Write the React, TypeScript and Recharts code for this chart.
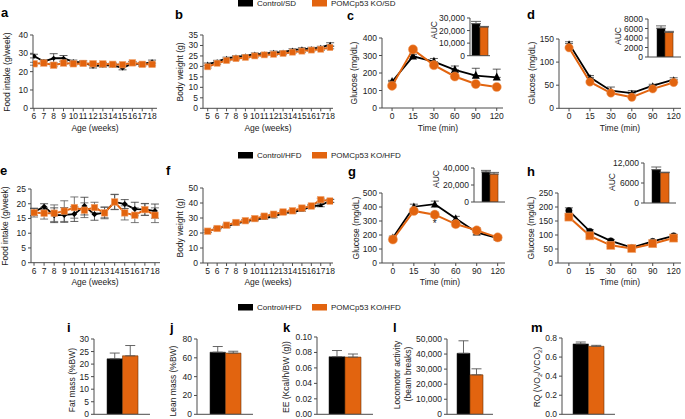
import React from 'react';
import { LineChart, Line, XAxis, YAxis, ErrorBar, BarChart, Bar, ReferenceDot } from 'recharts';

const ORANGE = '#E2640F';
const BLACK = '#000000';
const AXIS = '#4a4a4a';
const FONT = '"Liberation Sans", Arial, Helvetica, sans-serif';
const FS = 8.5;

// ---------------- data ----------------
const agesFood = [6, 7, 8, 9, 10, 11, 12, 13, 14, 15, 16, 17, 18];
const agesBW = [5, 6, 7, 8, 9, 10, 11, 12, 13, 14, 15, 16, 17, 18];
const timeLabels = ['0', '15', '30', '60', '90', '120'];
const timeIdx = [0, 1, 2, 3, 4, 5];

// a: food intake, SD
const foodSDCtrl = [28.5, 25.5, 27.3, 27.3, 25.3, 25, 23, 23.5, 23.5, 22, 24.5, 24, 25.3];
const foodSDCtrlErr = [1, 1, 2.5, 1.5, 1, 1, 1, 1, 1, 1, 1, 1, 1];
const foodSDKO = [24.3, 24.7, 23.5, 24.7, 24.3, 24.5, 24.3, 24.2, 24, 23.8, 24.8, 24, 24];
const foodSDKOErr = [0.8, 0.8, 0.8, 0.8, 0.8, 0.8, 0.8, 0.8, 0.8, 0.8, 0.8, 0.8, 0.8];

// b: body weight, SD
const bwSDCtrl = [21, 22.3, 23.8, 24.5, 25, 25.8, 26, 26.7, 26.8, 27.8, 28.3, 28.5, 29, 30.5];
const bwSDCtrlErr = [0.6, 0.6, 0.6, 0.6, 0.6, 0.6, 0.6, 0.6, 0.6, 0.6, 0.6, 0.6, 0.6, 0.8];
const bwSDKO = [19.8, 21.5, 22.8, 23.7, 24.3, 25, 25.5, 25.8, 26.2, 26.8, 27.3, 27.8, 28.2, 29];
const bwSDKOErr = [0.6, 0.6, 0.6, 0.6, 0.6, 0.6, 0.6, 0.6, 0.6, 0.6, 0.6, 0.6, 0.6, 0.6];

// c: GTT, SD
const gttSDCtrl = [150, 295, 265, 218, 185, 175];
const gttSDCtrlErr = [8, 12, 18, 22, 42, 47];
const gttSDKO = [127, 335, 245, 180, 137, 120];
const gttSDKOErr = [6, 8, 8, 8, 8, 6];
const aucGttSD = [25500, 22800];
const aucGttSDErr = [1800, 500];

// d: ITT, SD
const ittSDCtrl = [140, 67, 38, 33, 49, 62];
const ittSDCtrlErr = [4, 4, 8, 5, 3, 4];
const ittSDKO = [131, 57, 33, 24, 42, 56];
const ittSDKOErr = [3, 3, 3, 3, 3, 3];
const aucIttSD = [6050, 5200];
const aucIttSDErr = [500, 200];

// e: food intake, HFD
const foodHFDCtrl = [17.2, 19, 16.1, 16.2, 16.5, 19.2, 16.4, 17, 20.6, 19.9, 18.2, 18.1, 17.5];
const foodHFDCtrlErr = [1.2, 1, 2.5, 2.5, 2.5, 3, 2, 1.8, 2.6, 1.5, 2.3, 2, 2.4];
const foodHFDKO = [17, 16.8, 16.8, 17.5, 18.7, 17.8, 18.7, 16.9, 20.6, 16.9, 16.1, 18, 16.1];
const foodHFDKOErr = [1.5, 2, 2.8, 3.5, 3.6, 2.5, 1.8, 2, 2.5, 2.4, 2.5, 2, 2.5];

// f: body weight, HFD
const bwHFDCtrl = [21.2, 23, 24.5, 26.2, 27.8, 29, 30, 31, 33.2, 34, 35.3, 37.8, 38.5, 41.5];
const bwHFDCtrlErr = [0.8, 0.8, 0.8, 0.8, 0.8, 0.8, 0.8, 0.8, 0.8, 0.8, 0.8, 0.8, 1, 1];
const bwHFDKO = [21.2, 23, 25.2, 27, 28.2, 29.6, 31.2, 32.5, 34, 34.8, 36.6, 38, 42.2, 41.3];
const bwHFDKOErr = [0.8, 0.8, 0.8, 0.8, 0.8, 0.8, 0.8, 0.8, 0.8, 0.8, 0.8, 0.8, 1, 1];

// g: GTT, HFD
const gttHFDCtrl = [180, 402, 420, 318, 218, 178];
const gttHFDCtrlErr = [12, 18, 22, 15, 18, 15];
const gttHFDKO = [168, 372, 345, 278, 233, 183];
const gttHFDKOErr = [10, 18, 18, 18, 18, 12];
const aucGttHFD = [35300, 32900];
const aucGttHFDErr = [1900, 1900];

// h: ITT, HFD
const ittHFDCtrl = [187, 113, 79, 55, 77, 97];
const ittHFDCtrlErr = [10, 6, 5, 4, 4, 5];
const ittHFDKO = [164, 97, 63, 52, 69, 89];
const ittHFDKOErr = [6, 5, 4, 3, 4, 5];
const aucIttHFD = [10000, 9100];
const aucIttHFDErr = [800, 150];

// i-m: body composition / metabolism, HFD
const fatMass = [22.1, 23.3];
const fatMassErr = [2.3, 4.1];
const leanMass = [66, 65];
const leanMassErr = [6, 2];
const energyExp = [0.0745, 0.074];
const energyExpErr = [0.008, 0.004];
const locomotor = [40500, 26200];
const locomotorErr = [8300, 4000];
const rq = [0.738, 0.713];
const rqErr = [0.02, 0.01];

// ---------------- helpers ----------------
type Geo = { x0: number; y0: number; x1: number; y1: number };

function place(g: Geo, yw: number, xh: number, mt = 6, mr = 6) {
  return {
    style: { position: 'absolute' as const, left: g.x0 - yw, top: g.y0 - mt },
    width: g.x1 - g.x0 + yw + mr,
    height: g.y1 - g.y0 + mt + xh,
    margin: { top: mt, right: mr, left: 0, bottom: 0 },
  };
}

const tickStyle = { fontSize: FS, fill: '#222', fontFamily: FONT };

const squareDot = (s: number) => (p: any) => {
  if (p.cx == null || p.cy == null) return <g key={`sqn${p.index}`} />;
  return (
    <rect key={`sq${p.index}`} x={p.cx - s / 2} y={p.cy - s / 2} width={s} height={s}
      fill={ORANGE} stroke="#F2A26B" strokeWidth={0.6} />
  );
};
const circleDot = (r: number, fill: string) => (p: any) => {
  if (p.cx == null || p.cy == null) return <g key={`cn${p.index}`} />;
  return <circle key={`c${p.index}`} cx={p.cx} cy={p.cy} r={r} fill={fill} stroke={fill === ORANGE ? '#F2A26B' : fill} strokeWidth={0.5} />;
};
const triDot = (s: number) => (p: any) => {
  if (p.cx == null || p.cy == null) return <g key={`tn${p.index}`} />;
  const { cx, cy } = p;
  return (
    <path key={`t${p.index}`} d={`M${cx},${cy - s * 0.6}L${cx + s / 2},${cy + s * 0.4}L${cx - s / 2},${cy + s * 0.4}Z`} fill={BLACK} />
  );
};
const diamondDot = (s: number) => (p: any) => {
  if (p.cx == null || p.cy == null) return <g key={`dn${p.index}`} />;
  const { cx, cy } = p;
  return <path key={`d${p.index}`} d={`M${cx},${cy - s}L${cx + s},${cy}L${cx},${cy + s}L${cx - s},${cy}Z`} fill={BLACK} />;
};

function buildSeries(xs: number[], ctrl: number[], ko: number[], ce: number[], ke: number[], oneSided: boolean) {
  return xs.map((x, i) => ({
    x,
    ctrl: ctrl[i],
    ko: ko[i],
    ce: oneSided ? [0, ce[i]] : ce[i],
    ke: oneSided ? [0, ke[i]] : ke[i],
  }));
}

type LineProps = {
  g: Geo;
  data: any[];
  xDomain: [number, number];
  xTicks: number[];
  xFmt?: (v: any) => string;
  yDomain: [number, number];
  yTicks: number[];
  ctrlDot: any;
  koDot: any;
  star?: { x: number; y: number };
};

function LinePanel({ g, data, xDomain, xTicks, xFmt, yDomain, yTicks, ctrlDot, koDot, star }: LineProps) {
  const p = place(g, 30, 16);
  return (
    <div style={p.style}>
      <LineChart width={p.width} height={p.height} data={data} margin={p.margin}>
        <XAxis dataKey="x" type="number" domain={xDomain} ticks={xTicks} interval={0}
          tickFormatter={xFmt} tick={tickStyle} stroke={AXIS} tickSize={3} height={16} allowDataOverflow />
        <YAxis type="number" domain={yDomain} ticks={yTicks} interval={0}
          tick={tickStyle} stroke={AXIS} tickSize={3} width={30} allowDataOverflow />
        <Line dataKey="ctrl" stroke={BLACK} strokeWidth={1.8} dot={ctrlDot} isAnimationActive={false}>
          <ErrorBar dataKey="ce" width={4} stroke="#333" strokeWidth={0.8} />
        </Line>
        <Line dataKey="ko" stroke={ORANGE} strokeWidth={2} dot={koDot} isAnimationActive={false}>
          <ErrorBar dataKey="ke" width={4} stroke="#555" strokeWidth={0.8} />
        </Line>
        {star ? (
          <ReferenceDot x={star.x} y={star.y} r={0} fill="none" stroke="none" ifOverflow="visible"
            label={{ value: '*', position: 'center', fontSize: 10, fill: '#222', fontFamily: FONT }} />
        ) : null}
      </LineChart>
    </div>
  );
}

type BarProps = {
  g: Geo;
  vals: number[];
  errs: number[];
  yDomain: [number, number];
  yTicks: number[];
  fmt?: (v: any) => string;
  barSize: number;
  yw?: number;
};

function BarPanel({ g, vals, errs, yDomain, yTicks, fmt, barSize, yw = 36 }: BarProps) {
  const p = place(g, yw, 5, 7, 3);
  const data = [{ name: 'grp', ctrl: vals[0], ko: vals[1], ce: [0, errs[0]], ke: [0, errs[1]] }];
  return (
    <div style={p.style}>
      <BarChart width={p.width} height={p.height} data={data} margin={p.margin} barGap={0} barSize={barSize}>
        <XAxis dataKey="name" type="category" tick={false} tickLine={false} stroke={AXIS} height={5} />
        <YAxis type="number" domain={yDomain} ticks={yTicks} interval={0} tickFormatter={fmt}
          tick={tickStyle} stroke={AXIS} tickSize={3} width={yw} allowDataOverflow />
        <Bar dataKey="ctrl" fill={BLACK} stroke="#222" strokeWidth={0.5} isAnimationActive={false}>
          <ErrorBar dataKey="ce" width={5} stroke="#555" strokeWidth={0.9} />
        </Bar>
        <Bar dataKey="ko" fill={ORANGE} stroke="#6a3408" strokeWidth={0.6} isAnimationActive={false}>
          <ErrorBar dataKey="ke" width={5} stroke="#555" strokeWidth={0.9} />
        </Bar>
      </BarChart>
    </div>
  );
}

const comma = (v: any) => Number(v).toLocaleString('en-US');
const plain = (v: any) => String(v);
const tfmt = (v: any) => timeLabels[Number(v)] ?? '';

function VText({ x, y, children, size = FS }: { x: number; y: number; children: any; size?: number }) {
  return (
    <text x={x} y={y} transform={`rotate(-90 ${x} ${y})`} textAnchor="middle" fontSize={size} fill="#222" fontFamily={FONT}>
      {children}
    </text>
  );
}
function HText({ x, y, children }: { x: number; y: number; children: any }) {
  return (
    <text x={x} y={y} textAnchor="middle" fontSize={FS} fill="#222" fontFamily={FONT}>{children}</text>
  );
}
function Letter({ x, y, children, size = 13 }: { x: number; y: number; children: any; size?: number }) {
  return (
    <text x={x} y={y} fontSize={size} fontWeight="bold" fill="#000" fontFamily={FONT}>{children}</text>
  );
}
function LegendRow({ y, ctrlLabel, koLabel }: { y: number; ctrlLabel: string; koLabel: string }) {
  return (
    <g>
      <rect x={238} y={y} width={15} height={6.5} fill={BLACK} />
      <text x={257} y={y + 6.3} fontSize={8} fill="#222" fontFamily={FONT}>{ctrlLabel}</text>
      <rect x={312} y={y} width={15} height={6.5} fill={ORANGE} />
      <text x={331} y={y + 6.3} fontSize={8} fill="#222" fontFamily={FONT}>{koLabel}</text>
    </g>
  );
}

export default function App() {
  const aData = buildSeries(agesFood, foodSDCtrl, foodSDKO, foodSDCtrlErr, foodSDKOErr, false);
  const bData = buildSeries(agesBW, bwSDCtrl, bwSDKO, bwSDCtrlErr, bwSDKOErr, false);
  const cData = buildSeries(timeIdx, gttSDCtrl, gttSDKO, gttSDCtrlErr, gttSDKOErr, true);
  const dData = buildSeries(timeIdx, ittSDCtrl, ittSDKO, ittSDCtrlErr, ittSDKOErr, true);
  const eData = buildSeries(agesFood, foodHFDCtrl, foodHFDKO, foodHFDCtrlErr, foodHFDKOErr, false);
  const fData = buildSeries(agesBW, bwHFDCtrl, bwHFDKO, bwHFDCtrlErr, bwHFDKOErr, false);
  const gData = buildSeries(timeIdx, gttHFDCtrl, gttHFDKO, gttHFDCtrlErr, gttHFDKOErr, false);
  const hData = buildSeries(timeIdx, ittHFDCtrl, ittHFDKO, ittHFDCtrlErr, ittHFDKOErr, false);

  return (
    <div style={{ position: 'absolute', left: 0, top: 0, width: 685, height: 419, background: '#fff', overflow: 'hidden', fontFamily: FONT }}>
      {/* row 1 */}
      <LinePanel g={{ x0: 33, y0: 35, x1: 157, y1: 108.3 }} data={aData} xDomain={[5.9, 18.5]} xTicks={agesFood}
        yDomain={[0, 40]} yTicks={[0, 10, 20, 30, 40]} ctrlDot={diamondDot(2.6)} koDot={squareDot(6.5)} />
      <LinePanel g={{ x0: 203, y0: 35, x1: 333, y1: 108.3 }} data={bData} xDomain={[4.5, 18.3]} xTicks={agesBW}
        yDomain={[0, 35]} yTicks={[0, 5, 10, 15, 20, 25, 30, 35]} ctrlDot={triDot(4.5)} koDot={squareDot(6)} />
      <LinePanel g={{ x0: 382, y0: 38.3, x1: 503, y1: 108.3 }} data={cData} xDomain={[-0.48, 5.3]} xTicks={timeIdx} xFmt={tfmt}
        yDomain={[0, 400]} yTicks={[0, 100, 200, 300, 400]} ctrlDot={triDot(8)} koDot={circleDot(4.6, ORANGE)} />
      <LinePanel g={{ x0: 559, y0: 39, x1: 681, y1: 108.3 }} data={dData} xDomain={[-0.48, 5.35]} xTicks={timeIdx} xFmt={tfmt}
        yDomain={[0, 150]} yTicks={[0, 50, 100, 150]} ctrlDot={triDot(5.5)} koDot={circleDot(4.2, ORANGE)} />
      <BarPanel g={{ x0: 470, y0: 18.3, x1: 490, y1: 56 }} vals={aucGttSD} errs={aucGttSDErr}
        yDomain={[0, 30000]} yTicks={[0, 10000, 20000, 30000]} fmt={comma} barSize={8} />
      <BarPanel g={{ x0: 648, y0: 19, x1: 681, y1: 57 }} vals={aucIttSD} errs={aucIttSDErr}
        yDomain={[0, 8000]} yTicks={[0, 2000, 4000, 6000, 8000]} fmt={plain} barSize={8} />

      {/* row 2 */}
      <LinePanel g={{ x0: 31, y0: 189, x1: 160, y1: 262.7 }} data={eData} xDomain={[5.7, 18.5]} xTicks={agesFood}
        yDomain={[0, 25]} yTicks={[0, 5, 10, 15, 20, 25]} ctrlDot={diamondDot(3)} koDot={squareDot(6.5)} />
      <LinePanel g={{ x0: 203, y0: 188, x1: 333, y1: 263 }} data={fData} xDomain={[4.5, 18.3]} xTicks={agesBW}
        yDomain={[0, 50]} yTicks={[0, 10, 20, 30, 40, 50]} ctrlDot={triDot(4.5)} koDot={squareDot(6.5)} />
      <LinePanel g={{ x0: 382, y0: 193, x1: 505, y1: 263 }} data={gData} xDomain={[-0.52, 5.35]} xTicks={timeIdx} xFmt={tfmt}
        yDomain={[0, 500]} yTicks={[0, 100, 200, 300, 400, 500]} ctrlDot={triDot(7)} koDot={circleDot(4.6, ORANGE)}
        star={{ x: 2, y: 282 }} />
      <LinePanel g={{ x0: 558, y0: 193, x1: 681, y1: 263 }} data={hData} xDomain={[-0.52, 5.35]} xTicks={timeIdx} xFmt={tfmt}
        yDomain={[0, 250]} yTicks={[0, 50, 100, 150, 200, 250]} ctrlDot={circleDot(3.2, BLACK)} koDot={squareDot(8)} />
      <BarPanel g={{ x0: 474, y0: 168.3, x1: 505, y1: 202.3 }} vals={aucGttHFD} errs={aucGttHFDErr}
        yDomain={[0, 40000]} yTicks={[0, 20000, 40000]} fmt={comma} barSize={8} />
      <BarPanel g={{ x0: 644, y0: 162.7, x1: 676, y1: 202.7 }} vals={aucIttHFD} errs={aucIttHFDErr}
        yDomain={[0, 12000]} yTicks={[0, 6000, 12000]} fmt={(v: any) => (Number(v) >= 10000 ? comma(v) : String(v))} barSize={8.5} />

      {/* row 3 */}
      <BarPanel g={{ x0: 94, y0: 339, x1: 150, y1: 414.3 }} vals={fatMass} errs={fatMassErr}
        yDomain={[0, 30]} yTicks={[0, 5, 10, 15, 20, 25, 30]} fmt={plain} barSize={15.5} />
      <BarPanel g={{ x0: 197, y0: 339, x1: 253, y1: 414.3 }} vals={leanMass} errs={leanMassErr}
        yDomain={[0, 80]} yTicks={[0, 20, 40, 60, 80]} fmt={plain} barSize={15.5} />
      <BarPanel g={{ x0: 317, y0: 337, x1: 373, y1: 414.3 }} vals={energyExp} errs={energyExpErr}
        yDomain={[0, 0.1]} yTicks={[0, 0.02, 0.04, 0.06, 0.08, 0.1]} fmt={(v: any) => Number(v).toFixed(2)} barSize={16} />
      <BarPanel g={{ x0: 447, y0: 339, x1: 493, y1: 414.3 }} vals={locomotor} errs={locomotorErr}
        yDomain={[0, 50000]} yTicks={[0, 10000, 20000, 30000, 40000, 50000]} fmt={comma} barSize={13} />
      <BarPanel g={{ x0: 562, y0: 338, x1: 615, y1: 414.3 }} vals={rq} errs={rqErr}
        yDomain={[0, 0.8]} yTicks={[0, 0.2, 0.4, 0.6, 0.8]} fmt={(v: any) => Number(v).toFixed(1)} barSize={15.5} />

      <svg width={685} height={419} style={{ position: 'absolute', left: 0, top: 0, pointerEvents: 'none' }}>
        <LegendRow y={0} ctrlLabel="Control/SD" koLabel="POMCp53 KO/SD" />
        <LegendRow y={152} ctrlLabel="Control/HFD" koLabel="POMCp53 KO/HFD" />
        <LegendRow y={304} ctrlLabel="Control/HFD" koLabel="POMCp53 KO/HFD" />

        <Letter x={1} y={17}>a</Letter>
        <Letter x={175} y={18.5}>b</Letter>
        <Letter x={347} y={19.5} size={12.5}>c</Letter>
        <Letter x={527} y={18.5}>d</Letter>
        <Letter x={0} y={175}>e</Letter>
        <Letter x={166} y={175}>f</Letter>
        <Letter x={348} y={176}>g</Letter>
        <Letter x={527} y={176}>h</Letter>
        <Letter x={67} y={332}>i</Letter>
        <Letter x={170} y={332}>j</Letter>
        <Letter x={283} y={332}>k</Letter>
        <Letter x={393} y={332}>l</Letter>
        <Letter x={531} y={332}>m</Letter>

        <VText x={10} y={72}>Food intake (g/week)</VText>
        <VText x={183} y={72}>Body weight (g)</VText>
        <VText x={357} y={73}>Glucose (mg/dL)</VText>
        <VText x={535} y={73}>Glucose (mg/dL)</VText>
        <VText x={437} y={30}>AUC</VText>
        <VText x={621} y={36}>AUC</VText>

        <VText x={8} y={226}>Food intake (g/week)</VText>
        <VText x={183} y={228}>Body weight (g)</VText>
        <VText x={359} y={228}>Glucose (mg/dL)</VText>
        <VText x={534} y={228}>Glucose (mg/dL)</VText>
        <VText x={439} y={179}>AUC</VText>
        <VText x={615} y={182}>AUC</VText>

        <HText x={95} y={131}>Age (weeks)</HText>
        <HText x={268} y={131}>Age (weeks)</HText>
        <HText x={438} y={131}>Time (min)</HText>
        <HText x={620} y={131}>Time (min)</HText>
        <HText x={95} y={285}>Age (weeks)</HText>
        <HText x={268} y={285}>Age (weeks)</HText>
        <HText x={440} y={285}>Time (min)</HText>
        <HText x={620} y={285}>Time (min)</HText>

        <VText x={75} y={380}>Fat mass (%BW)</VText>
        <VText x={176} y={381}>Lean mass (%BW)</VText>
        <VText x={289} y={377}>EE (Kcal/h/BW (g))</VText>
        <VText x={400} y={375}>Locomotor activity</VText>
        <VText x={411} y={374}>(beam breaks)</VText>
        <text x={540} y={377} transform="rotate(-90 540 377)" textAnchor="middle" fontSize={FS} fill="#222" fontFamily={FONT}>
          RQ (VO<tspan fontSize={6} dy={2}>2</tspan><tspan dy={-2}>/VCO</tspan><tspan fontSize={6} dy={2}>2</tspan><tspan dy={-2}>)</tspan>
        </text>
      </svg>
    </div>
  );
}
